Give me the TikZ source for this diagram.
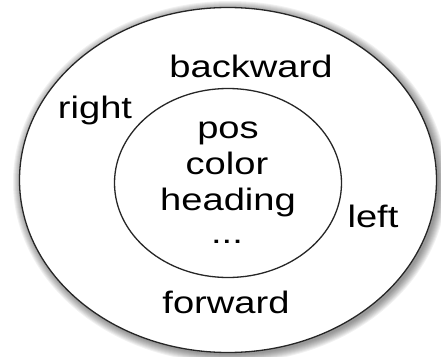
\documentclass[tikz,border=0pt]{standalone}
\usepackage{fontspec}
\setmainfont{Liberation Sans}
\usetikzlibrary{shapes.geometric}

\begin{document}
\begin{tikzpicture}[
        x=1pt, y=-1pt,
        every node/.style={font=\fontsize{31}{36}\selectfont},
        % stretched text as in the original picture
        word/.style={anchor=base, inner sep=0pt, xscale=1.23},
        ring/.style={ellipse, draw=black!85, line width=1.3pt, inner sep=0pt}
    ]
    \useasboundingbox (0,0) rectangle (441,356);

    % Soft glow round the outer ring
    \foreach \i in {9,...,1}
        \fill[black, opacity=0.055] (230,182) ellipse ({208pt+\i pt} and {172pt+\i pt});

    % Rings
    \node[ring, fill=white, minimum width=417pt, minimum height=345pt] (outer) at (228,180) {};
    \node[ring, minimum width=227pt, minimum height=189pt] (inner) at (228,183) {};

    % Inner attributes
    \node[word] (pos) at (228,138) {pos};
    \node[word] (color) at (227,174) {color};
    \node[word] (heading) at (228,210) {heading};
    \node[word] (dots) at (227,243) {...};

    % Outer words
    \node[word] (backward) at (251,77) {backward};
    \node[word] (right) at (95,118) {right};
    \node[word] (left) at (373,227) {left};
    \node[word] (forward) at (226,313) {forward};

\end{tikzpicture}
\end{document}
